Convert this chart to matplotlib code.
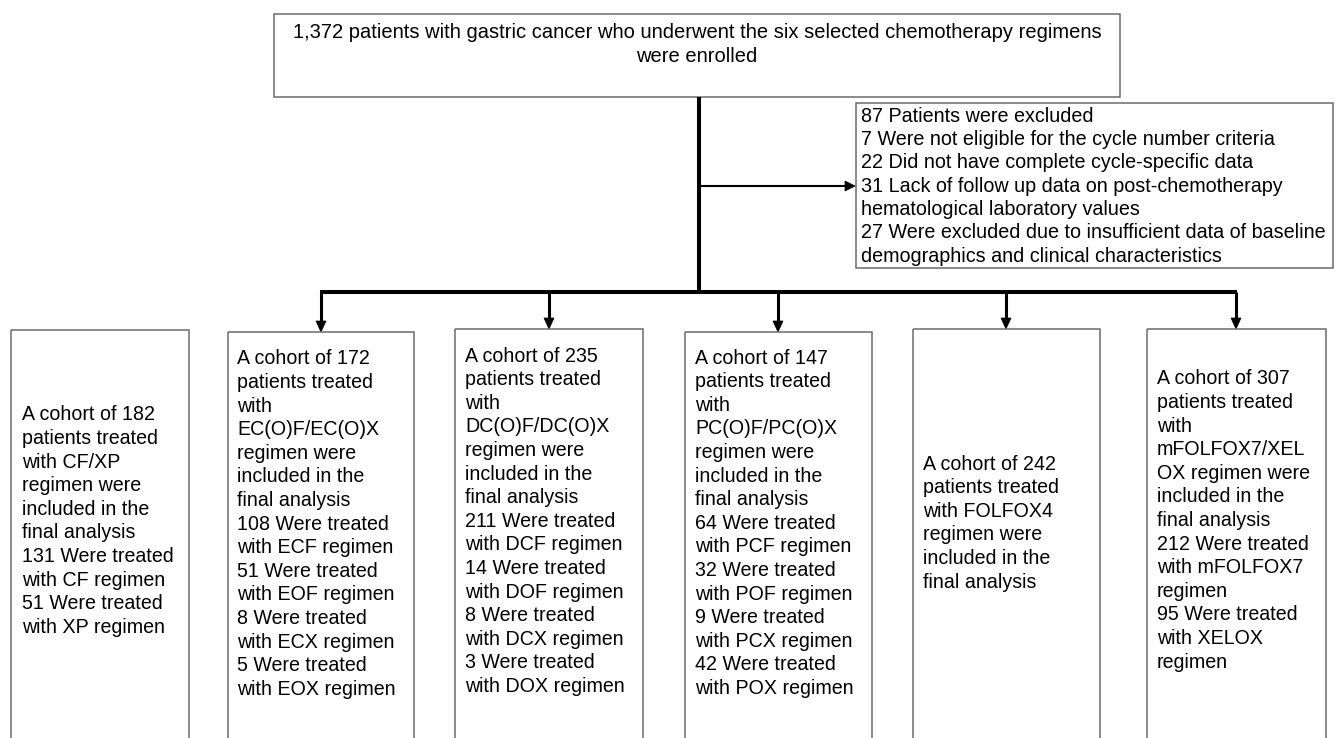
import matplotlib
matplotlib.use("Agg")
import matplotlib.pyplot as plt
from matplotlib.patches import Rectangle, Polygon

plt.rcParams['font.family'] = ['Liberation Sans', 'DejaVu Sans']

# ---- data (text content) ----
top_lines = ["1,372 patients with gastric cancer who underwent the six selected chemotherapy regimens",
             "were enrolled"]
excl_lines = ["87 Patients were excluded",
              "7 Were not eligible for the cycle number criteria",
              "22 Did not have complete cycle-specific data",
              "31 Lack of follow up data on post-chemotherapy",
              "hematological laboratory values",
              "27 Were excluded due to insufficient data of baseline",
              "demographics and clinical characteristics"]
cohort_cf = ["A cohort of 182", "patients treated", "with CF/XP", "regimen were",
             "included in the", "final analysis", "131 Were treated", "with CF regimen",
             "51 Were treated", "with XP regimen"]
cohort_ec = ["A cohort of 172", "patients treated", "with", "EC(O)F/EC(O)X", "regimen were",
             "included in the", "final analysis", "108 Were treated", "with ECF regimen",
             "51 Were treated", "with EOF regimen", "8 Were treated", "with ECX regimen",
             "5 Were treated", "with EOX regimen"]
cohort_dc = ["A cohort of 235", "patients treated", "with", "DC(O)F/DC(O)X", "regimen were",
             "included in the", "final analysis", "211 Were treated", "with DCF regimen",
             "14 Were treated", "with DOF regimen", "8 Were treated", "with DCX regimen",
             "3 Were treated", "with DOX regimen"]
cohort_pc = ["A cohort of 147", "patients treated", "with", "PC(O)F/PC(O)X", "regimen were",
             "included in the", "final analysis", "64 Were treated", "with PCF regimen",
             "32 Were treated", "with POF regimen", "9 Were treated", "with PCX regimen",
             "42 Were treated", "with POX regimen"]
cohort_folfox4 = ["A cohort of 242", "patients treated", "with FOLFOX4", "regimen were",
                  "included in the", "final analysis"]
cohort_mfolfox = ["A cohort of 307", "patients treated", "with", "mFOLFOX7/XEL", "OX regimen were",
                  "included in the", "final analysis", "212 Were treated", "with mFOLFOX7",
                  "regimen", "95 Were treated", "with XELOX", "regimen"]
cohorts = [cohort_cf, cohort_ec, cohort_dc, cohort_pc, cohort_folfox4, cohort_mfolfox]

# ---- layout (pixel coordinates) ----
W, H = 1335, 738
fig = plt.figure(figsize=(W / 100, H / 100), dpi=100)
ax = fig.add_axes([0, 0, 1, 1])
ax.set_xlim(0, W)
ax.set_ylim(H, 0)
ax.axis('off')

edge = '#6b6b6b'
FS = 14.1
FS_TOP = 14.5
FS_EXCL = 14.2
LS = 23.6

# top box
ax.add_patch(Rectangle((274, 14), 846, 83, fill=False, ec=edge, lw=1.1))
for i, t in enumerate(top_lines):
    ax.text(697, 33 + 24 * i, t, ha='center', va='center', fontsize=FS_TOP)

# exclusion box
ax.add_patch(Rectangle((856, 103), 477, 165, fill=False, ec=edge, lw=1.1))
for i, t in enumerate(excl_lines):
    ax.text(861, 116 + 23.4 * i, t, ha='left', va='center', fontsize=FS_EXCL)

# connectors
ax.plot([699, 699], [97, 294], color='black', lw=2.9, solid_capstyle='butt')
ax.plot([699, 846], [186, 186], color='black', lw=1.5, solid_capstyle='butt')
ax.add_patch(Polygon([[845, 181], [855, 186], [845, 191]], closed=True, fc='black', ec='black', lw=0.5))

boxes = [(11, 330, 178), (228, 332, 186), (455, 329, 188), (685, 332, 187), (913, 329, 187), (1147, 329, 179)]
text_x = [22, 237, 465, 695, 923, 1157]
first_y = [415, 359, 356, 358, 464, 379]
arrow_x = [321, 549, 778, 1006, 1236]

ax.plot([arrow_x[0] - 1, arrow_x[-1] + 1], [292, 292], color='black', lw=2.9, solid_capstyle='butt')
for ax_x, (bx, by, bw) in zip(arrow_x, boxes[1:]):
    ax.plot([ax_x, ax_x], [292, by - 9], color='black', lw=2.2, solid_capstyle='butt')
    ax.add_patch(Polygon([[ax_x - 5, by - 11], [ax_x + 5, by - 11], [ax_x, by]], closed=True,
                         fc='black', ec='black', lw=0.5))

for (bx, by, bw), tx, fy, lines in zip(boxes, text_x, first_y, cohorts):
    ax.add_patch(Rectangle((bx, by), bw, 500, fill=False, ec=edge, lw=1.1))
    for i, t in enumerate(lines):
        ax.text(tx, fy + LS * i, t, ha='left', va='center', fontsize=FS)

fig.savefig('out.png', dpi=100, facecolor='white')
